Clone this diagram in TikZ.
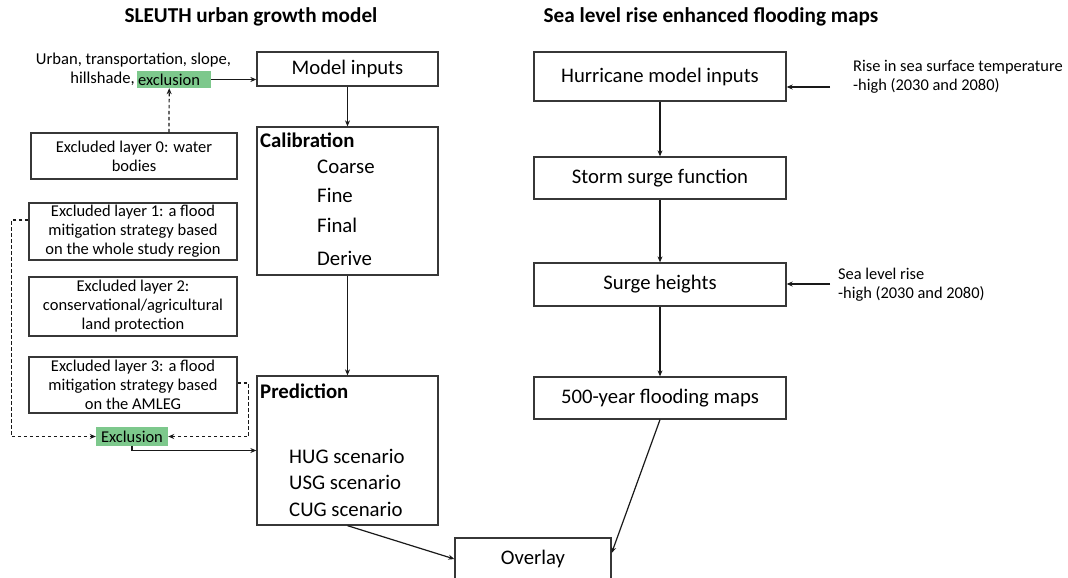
\documentclass[tikz,border=0pt]{standalone}
\usepackage{fontspec}
\setmainfont{Carlito}
\usetikzlibrary{arrows.meta,calc}
\definecolor{exgreen}{RGB}{125,200,140}
\definecolor{edge}{RGB}{55,55,55}
\begin{document}
\begin{tikzpicture}[x=1pt,y=-1pt,
  box/.style={draw=edge,line width=1.3pt,rectangle,inner sep=0pt,align=center,font=\fontsize{20.7}{24}\selectfont},
  exbox/.style={draw=edge,line width=1.3pt,rectangle,inner sep=0pt,align=center,minimum width=208,font=\fontsize{16.5}{19}\selectfont},
  lbl/.style={inner sep=0pt,anchor=west,font=\fontsize{20.8}{24}\selectfont},
  head/.style={inner sep=0pt,anchor=west,font=\fontsize{20.8}{24}\selectfont\bfseries},
  side/.style={inner sep=0pt,anchor=west,align=left,font=\fontsize{16.4}{19}\selectfont},
  arr/.style={-{Stealth[length=6pt,width=5pt]},line width=1.2pt,draw=black!90},
  darr/.style={arr,dash pattern=on 3.5pt off 2.5pt},
  gbox/.style={fill=exgreen,inner sep=0pt,font=\fontsize{16.5}{19}\selectfont}]
\clip (0,0) rectangle (1068,578);
\fill[white] (0,0) rectangle (1068,578);

% titles
\node[inner sep=0pt,font=\fontsize{21.2}{24}\selectfont\bfseries] (t1) at (251,17) {SLEUTH urban growth model};
\node[inner sep=0pt,font=\fontsize{21.2}{24}\selectfont\bfseries] (t2) at (711,17) {Sea level rise enhanced flooding maps};

% left column inputs
\node[inner sep=0pt,font=\fontsize{16.6}{19}\selectfont] (urb) at (133.5,60) {Urban, transportation, slope,};
\node[gbox,minimum width=74,minimum height=17,text width=72,align=left,inner xsep=1pt,anchor=west] (excl) at (137,79.5) {exclusion};
\node[inner sep=0pt,anchor=east,font=\fontsize{16.6}{19}\selectfont] (hill) at (135,79) {hillshade,};

\node[box,minimum width=181,minimum height=34] (mi) at (347.5,69) {Model inputs};
\node[box,minimum width=181,minimum height=148] (cal) at (347.5,201) {};
\node[box,minimum width=181,minimum height=149] (pred) at (347.5,450.5) {};
\node[box,minimum width=156,minimum height=42] (ov) at (533,559) {Overlay};

\node[head] (calh) at (260,140) {Calibration};
\node[lbl] (c1) at (317,167) {Coarse};
\node[lbl] (c2) at (317,195) {Fine};
\node[lbl] (c3) at (317,225) {Final};
\node[lbl] (c4) at (317,258) {Derive};

\node[head] (predh) at (260,391) {Prediction};
\node[lbl] (p1) at (289,456) {HUG scenario};
\node[lbl] (p2) at (289,482) {USG scenario};
\node[lbl] (p3) at (289,509) {CUG scenario};

\node[exbox,minimum width=206,minimum height=46] (ex0) at (134,156) {Excluded layer 0: water\\bodies};
\node[exbox,minimum height=57] (ex1) at (133,231.5) {Excluded layer 1: a flood\\mitigation strategy based\\on the whole study region};
\node[exbox,minimum height=59] (ex2) at (133,306.5) {Excluded layer 2:\\conservational/agricultural\\land protection};
\node[exbox,minimum height=56] (ex3) at (133,385) {Excluded layer 3: a flood\\mitigation strategy based\\on the AMLEG};
\node[gbox,minimum width=72,minimum height=19] (exg) at (132,436.5) {Exclusion};

% right column
\node[box,minimum width=252,minimum height=49] (hur) at (660,76.5) {Hurricane model inputs};
\node[box,minimum width=252,minimum height=42] (sto) at (660,178) {Storm surge function};
\node[box,minimum width=252,minimum height=43] (sur) at (660,284.5) {Surge heights};
\node[box,minimum width=252,minimum height=42] (fl) at (660,398) {500-year flooding maps};

\node[side] (sst) at (853,76.5) {Rise in sea surface temperature\\-high (2030 and 2080)};
\node[side] (slr) at (838,284.5) {Sea level rise\\-high (2030 and 2080)};
\coordinate (sstS) at (830,87);
\coordinate (slrS) at (830,284);

% connectors left
\draw[arr] (excl.east) -- (excl.east -| mi.west);
\draw[darr] ([xshift=35pt]ex0.north) -- ([xshift=-5pt]excl.south);
\draw[arr] (mi.south) -- (cal.north);
\draw[arr] (cal.south) -- (pred.north);
\draw[darr] ([yshift=11.5pt]ex1.west) -- ++(-17,0) |- (exg.west);
\draw[darr] ([yshift=2pt]ex3.east) -- ++(11,0) |- (exg.east);
\draw[arr] (exg.south) |- (pred.west);
\draw[arr] (pred.south) -- (ov.west);

% connectors right
\draw[arr] (sstS) -- (sstS -| hur.east);
\draw[arr] (hur.south) -- (sto.north);
\draw[arr] (sto.south) -- (sur.north);
\draw[arr] (slrS) -- (slrS -| sur.east);
\draw[arr] (sur.south) -- (fl.north);
\draw[arr] (fl.south) -- ([yshift=6pt]ov.east);
\end{tikzpicture}
\end{document}
